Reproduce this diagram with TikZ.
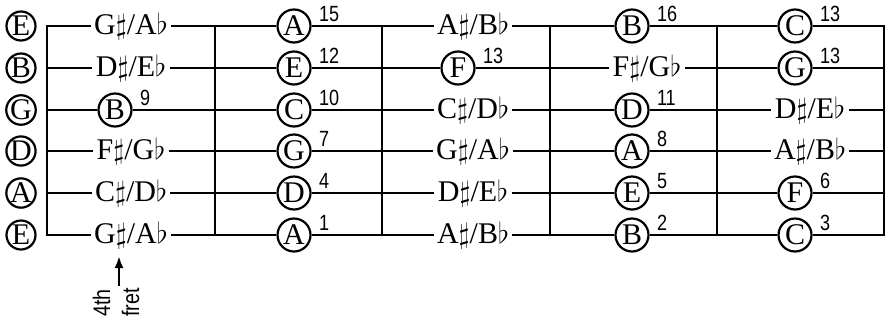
\documentclass[tikz,border=0pt]{standalone}
\usepackage{fontspec}
\setmainfont{Liberation Serif}
\newfontfamily\condsans[FakeStretch=0.82]{Liberation Sans}
\usetikzlibrary{positioning,arrows.meta}
\newcommand{\shp}{$\sharp$}
\newcommand{\flt}{$\flat$}
\tikzset{
  gstring/.style={line width=1.2pt},
  fretline/.style={line width=1.2pt,line cap=rect},
  note/.style={circle,draw,line width=1.1pt,minimum size=16.5pt,inner sep=0pt},
  opennote/.style={note,minimum size=14.5pt},
  enharm/.style={inner xsep=1.5pt,inner ysep=0pt},
  fretno/.style={inner sep=0pt,font=\condsans\fontsize{11}{11}\selectfont}
}
\begin{document}
\begin{tikzpicture}[x=0.5pt,y=-0.5pt,font=\fontsize{15}{17}\selectfont]
 \useasboundingbox (0,0) rectangle (886,322);
 % open strings, nut and string ends
 \foreach \n/\y [count=\i] in {E/26,B/68,G/110,D/151,A/193,E/235} {
   \node[opennote] (open\i) at (21,\y) {\n};
   \coordinate (s\i) at (47,\y);
   \coordinate (e\i) at (884,\y);
 }
 \foreach \x in {47,215,382,550,717,884} \draw[fretline] (\x,26) -- (\x,235);
 % row 1
 \node[enharm] (r1c1) at (131,26) {G\shp/A\flt};
 \node[note] (r1c2) at (294,26) {A};
 \node[fretno,above right=2pt and 3.5pt of r1c2.east] (r1c2n) {15};
 \node[enharm] (r1c3) at (473,26) {A\shp/B\flt};
 \node[note] (r1c4) at (632,26) {B};
 \node[fretno,above right=2pt and 3.5pt of r1c4.east] (r1c4n) {16};
 \node[note] (r1c5) at (795,26) {C};
 \node[fretno,above right=2pt and 3.5pt of r1c5.east] (r1c5n) {13};
 % row 2
 \node[enharm] (r2c1) at (131,68) {D\shp/E\flt};
 \node[note] (r2c2) at (294,68) {E};
 \node[fretno,above right=2pt and 3.5pt of r2c2.east] (r2c2n) {12};
 \node[note] (r2c3) at (458,68) {F};
 \node[fretno,above right=2pt and 3.5pt of r2c3.east] (r2c3n) {13};
 \node[enharm] (r2c4) at (647,68) {F\shp/G\flt};
 \node[note] (r2c5) at (795,68) {G};
 \node[fretno,above right=2pt and 3.5pt of r2c5.east] (r2c5n) {13};
 % row 3
 \node[note] (r3c1) at (115,110) {B};
 \node[fretno,above right=2pt and 3.5pt of r3c1.east] (r3c1n) {9};
 \node[note] (r3c2) at (294,110) {C};
 \node[fretno,above right=2pt and 3.5pt of r3c2.east] (r3c2n) {10};
 \node[enharm] (r3c3) at (473,110) {C\shp/D\flt};
 \node[note] (r3c4) at (632,110) {D};
 \node[fretno,above right=2pt and 3.5pt of r3c4.east] (r3c4n) {11};
 \node[enharm] (r3c5) at (810,110) {D\shp/E\flt};
 % row 4
 \node[enharm] (r4c1) at (131,151) {F\shp/G\flt};
 \node[note] (r4c2) at (294,151) {G};
 \node[fretno,above right=2pt and 3.5pt of r4c2.east] (r4c2n) {7};
 \node[enharm] (r4c3) at (473,151) {G\shp/A\flt};
 \node[note] (r4c4) at (632,151) {A};
 \node[fretno,above right=2pt and 3.5pt of r4c4.east] (r4c4n) {8};
 \node[enharm] (r4c5) at (810,151) {A\shp/B\flt};
 % row 5
 \node[enharm] (r5c1) at (131,193) {C\shp/D\flt};
 \node[note] (r5c2) at (294,193) {D};
 \node[fretno,above right=2pt and 3.5pt of r5c2.east] (r5c2n) {4};
 \node[enharm] (r5c3) at (473,193) {D\shp/E\flt};
 \node[note] (r5c4) at (632,193) {E};
 \node[fretno,above right=2pt and 3.5pt of r5c4.east] (r5c4n) {5};
 \node[note] (r5c5) at (795,193) {F};
 \node[fretno,above right=2pt and 3.5pt of r5c5.east] (r5c5n) {6};
 % row 6
 \node[enharm] (r6c1) at (131,235) {G\shp/A\flt};
 \node[note] (r6c2) at (294,235) {A};
 \node[fretno,above right=2pt and 3.5pt of r6c2.east] (r6c2n) {1};
 \node[enharm] (r6c3) at (473,235) {A\shp/B\flt};
 \node[note] (r6c4) at (632,235) {B};
 \node[fretno,above right=2pt and 3.5pt of r6c4.east] (r6c4n) {2};
 \node[note] (r6c5) at (795,235) {C};
 \node[fretno,above right=2pt and 3.5pt of r6c5.east] (r6c5n) {3};
 % strings
 \foreach \i in {1,...,6}
   \draw[gstring] (s\i) -- (r\i c1) -- (r\i c2) -- (r\i c3) -- (r\i c4) -- (r\i c5) -- (e\i);
 % 4th fret marker
 \node[rotate=90,anchor=west,align=left,inner sep=0pt,
   font=\condsans\fontsize{12}{14.5}\selectfont] (fretlbl) at (116,317) {4th\\fret};
 \coordinate (arrowfoot) at (119,286);
 \coordinate (arrowtip) at (119,256);
 \draw[line width=1.4pt,-{Latex[length=6pt,width=4.5pt]}] (arrowfoot) -- (arrowtip);
\end{tikzpicture}
\end{document}
